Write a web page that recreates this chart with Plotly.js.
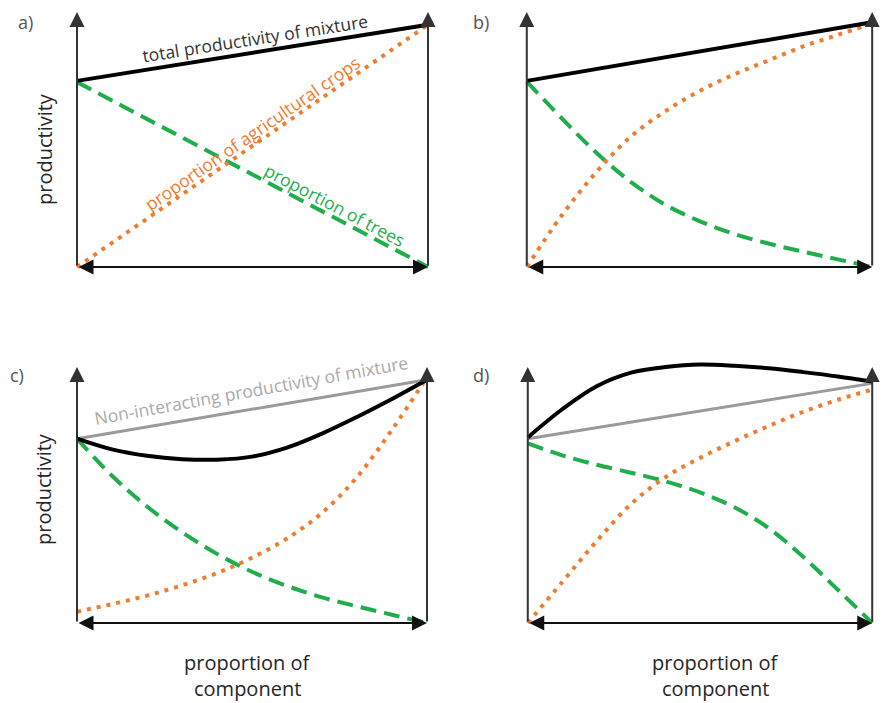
<!DOCTYPE html>
<html>
<head>
<meta charset="utf-8">
<script src="https://cdn.plot.ly/plotly-3.0.1.min.js"></script>
<style>html,body{margin:0;padding:0;background:#fff;}#chart{width:886px;height:703px;}</style>
</head>
<body>
<div id="chart"></div>
<script>
// ---------- data (x = proportion of component, y = productivity, both 0..1) ----------
const linX = [0, 1];
const curveX = [0, 0.1, 0.2, 0.3, 0.4, 0.5, 0.6, 0.7, 0.8, 0.9, 1];

// panel a
const aTotal = [0.73, 0.95];
const aTrees = [0.725, 0.0];
const aCrops = [0.0, 0.95];

// panel b
const bTotal = [0.73, 0.96];
const bCrops = [0.0, 0.20, 0.37, 0.51, 0.61, 0.69, 0.755, 0.81, 0.865, 0.91, 0.955];
const bTrees = [0.727, 0.585, 0.45, 0.335, 0.245, 0.18, 0.13, 0.092, 0.06, 0.03, 0.0];

// panel c
const cNonInt = [0.72, 0.95];
const cTotal = [0.72, 0.678, 0.653, 0.64, 0.638, 0.65, 0.685, 0.74, 0.805, 0.875, 0.95];
const cCrops = [0.044, 0.074, 0.107, 0.147, 0.195, 0.255, 0.33, 0.43, 0.57, 0.755, 0.96];
const cTrees = [0.72, 0.575, 0.455, 0.355, 0.27, 0.2, 0.145, 0.1, 0.065, 0.032, 0.0];

// panel d
const dNonInt = [0.72, 0.936];
const dTotal = [0.725, 0.835, 0.925, 0.978, 1.0, 1.01, 1.005, 0.995, 0.98, 0.963, 0.943];
const dCrops = [0.0, 0.16, 0.32, 0.465, 0.57, 0.645, 0.71, 0.77, 0.825, 0.872, 0.912];
const dTrees = [0.702, 0.655, 0.618, 0.587, 0.553, 0.51, 0.452, 0.37, 0.258, 0.13, 0.0];

// labels
const panelLabels = ['a)', 'b)', 'c)', 'd)'];
const yLabel = 'productivity';
const xLabelLines = ['proportion of', 'component'];
const txtTotal = 'total productivity of mixture';
const txtCrops = 'proportion of agricultural crops';
const txtTrees = 'proportion of trees';
const txtNonInt = 'Non-interacting productivity of mixture';

// ---------- styling ----------
const W = 886, H = 703;
const BLACK = '#000000', GREEN = '#1fae4b', ORANGE = '#ed7d31', GRAY = '#9a9a9a';
const FONT = 'Open Sans, Noto Sans, sans-serif';

const totalLine = {color: BLACK, width: 4, shape: 'spline', smoothing: 1};
const treesLine = {color: GREEN, width: 4, dash: '16px,8px', shape: 'spline', smoothing: 1};
const cropsLine = {color: ORANGE, width: 4, dash: '4px,6px', shape: 'spline', smoothing: 1};
const nonIntLine = {color: GRAY, width: 3};

function tr(x, y, line, k) {
  const s = k === 1 ? '' : String(k);
  return {x: x, y: y, type: 'scatter', mode: 'lines', line: line,
          xaxis: 'x' + s, yaxis: 'y' + s, hoverinfo: 'skip', showlegend: false};
}

const data = [
  tr(linX, aTrees, treesLine, 1), tr(linX, aCrops, cropsLine, 1), tr(linX, aTotal, totalLine, 1),
  tr(curveX, bTrees, treesLine, 2), tr(curveX, bCrops, cropsLine, 2), tr(linX, bTotal, totalLine, 2),
  tr(curveX, cTrees, treesLine, 3), tr(curveX, cCrops, cropsLine, 3), tr(linX, cNonInt, nonIntLine, 3), tr(curveX, cTotal, totalLine, 3),
  tr(curveX, dTrees, treesLine, 4), tr(curveX, dCrops, cropsLine, 4), tr(linX, dNonInt, nonIntLine, 4), tr(curveX, dTotal, totalLine, 4)
];

// panel placement in pixels: x of data 0 / 1, y of data 0 / 1
const panels = [
  {x0: 77, x1: 428, y0: 267, y1: 12},
  {x0: 527, x1: 878, y0: 267, y1: 12},
  {x0: 77, x1: 427, y0: 623, y1: 367},
  {x0: 528, x1: 878, y0: 623, y1: 367}
];
const PAD = 0.04;
const layout = {
  width: W, height: H, margin: {l: 0, r: 0, t: 0, b: 0},
  paper_bgcolor: '#fff', plot_bgcolor: 'rgba(0,0,0,0)', showlegend: false,
  annotations: [], font: {family: FONT}
};
panels.forEach((p, i) => {
  const s = i === 0 ? '' : String(i + 1);
  const sx = p.x1 - p.x0, sy = p.y0 - p.y1;
  const left = p.x0 - PAD * sx, right = p.x1 + PAD * sx;
  const bottom = p.y0 + PAD * sy, top = p.y1 - PAD * sy;
  const ax = {visible: false, fixedrange: true, zeroline: false, showgrid: false};
  layout['xaxis' + s] = Object.assign({}, ax, {range: [-PAD, 1 + PAD], domain: [left / W, right / W], anchor: 'y' + s});
  layout['yaxis' + s] = Object.assign({}, ax, {range: [-PAD, 1 + PAD], domain: [1 - bottom / H, 1 - top / H], anchor: 'x' + s});
  const xr = 'x' + s, yr = 'y' + s;
  const arrowBase = {text: '', showarrow: true, xref: xr, yref: yr, axref: xr, ayref: yr,
                     arrowhead: 2, arrowsize: 1.5, arrowwidth: 2, arrowcolor: '#111', standoff: 0, startstandoff: 0};
  // horizontal double arrow
  layout.annotations.push(Object.assign({}, arrowBase, {x: 1, y: 0, ax: 0, ay: 0, arrowside: 'end+start', startarrowhead: 2, startarrowsize: 1.5}));
  // left vertical
  layout.annotations.push(Object.assign({}, arrowBase, {x: 0, y: 1, ax: 0, ay: 0, arrowcolor: '#333'}));
  // right vertical
  layout.annotations.push(Object.assign({}, arrowBase, {x: 1, y: 1, ax: 1, ay: 0, arrowcolor: '#333'}));
});

function ptxt(text, px, py, size, color, extra) {
  return Object.assign({text: text, xref: 'paper', yref: 'paper', x: px / W, y: 1 - py / H,
    xanchor: 'center', yanchor: 'middle', showarrow: false,
    font: {family: FONT, size: size, color: color}}, extra || {});
}
// panel letters
layout.annotations.push(ptxt(panelLabels[0], 25, 22, 18, '#555'));
layout.annotations.push(ptxt(panelLabels[1], 481, 22, 18, '#555'));
layout.annotations.push(ptxt(panelLabels[2], 17, 375, 18, '#555'));
layout.annotations.push(ptxt(panelLabels[3], 481, 375, 18, '#555'));
// y labels
layout.annotations.push(ptxt(yLabel, 45, 149, 20, '#262626', {textangle: -90}));
layout.annotations.push(ptxt(yLabel, 44, 489, 20, '#262626', {textangle: -90}));
// x labels
layout.annotations.push(ptxt(xLabelLines[0], 247, 662, 20, '#262626'));
layout.annotations.push(ptxt(xLabelLines[1], 247, 688, 20, '#262626'));
layout.annotations.push(ptxt(xLabelLines[0], 715, 662, 20, '#262626'));
layout.annotations.push(ptxt(xLabelLines[1], 715, 688, 20, '#262626'));

// in-plot line labels
function dtxt(text, k, x, y, angle, color) {
  const s = k === 1 ? '' : String(k);
  return {text: text, xref: 'x' + s, yref: 'y' + s, x: x, y: y, showarrow: false,
    xanchor: 'center', yanchor: 'middle', textangle: angle,
    font: {family: FONT, size: 17.5, color: color}};
}
layout.annotations.push(dtxt(txtTotal, 1, 0.507, 0.898, -8.9, '#333'));
layout.annotations.push(dtxt(txtCrops, 1, 0.499, 0.525, -34.6, ORANGE));
layout.annotations.push(dtxt(txtTrees, 1, 0.735, 0.243, 27.8, GREEN));
layout.annotations.push(dtxt(txtNonInt, 3, 0.497, 0.91, -10.2, '#aaaaaa'));

Plotly.newPlot('chart', data, layout, {staticPlot: true, displayModeBar: false});
</script>
</body>
</html>
